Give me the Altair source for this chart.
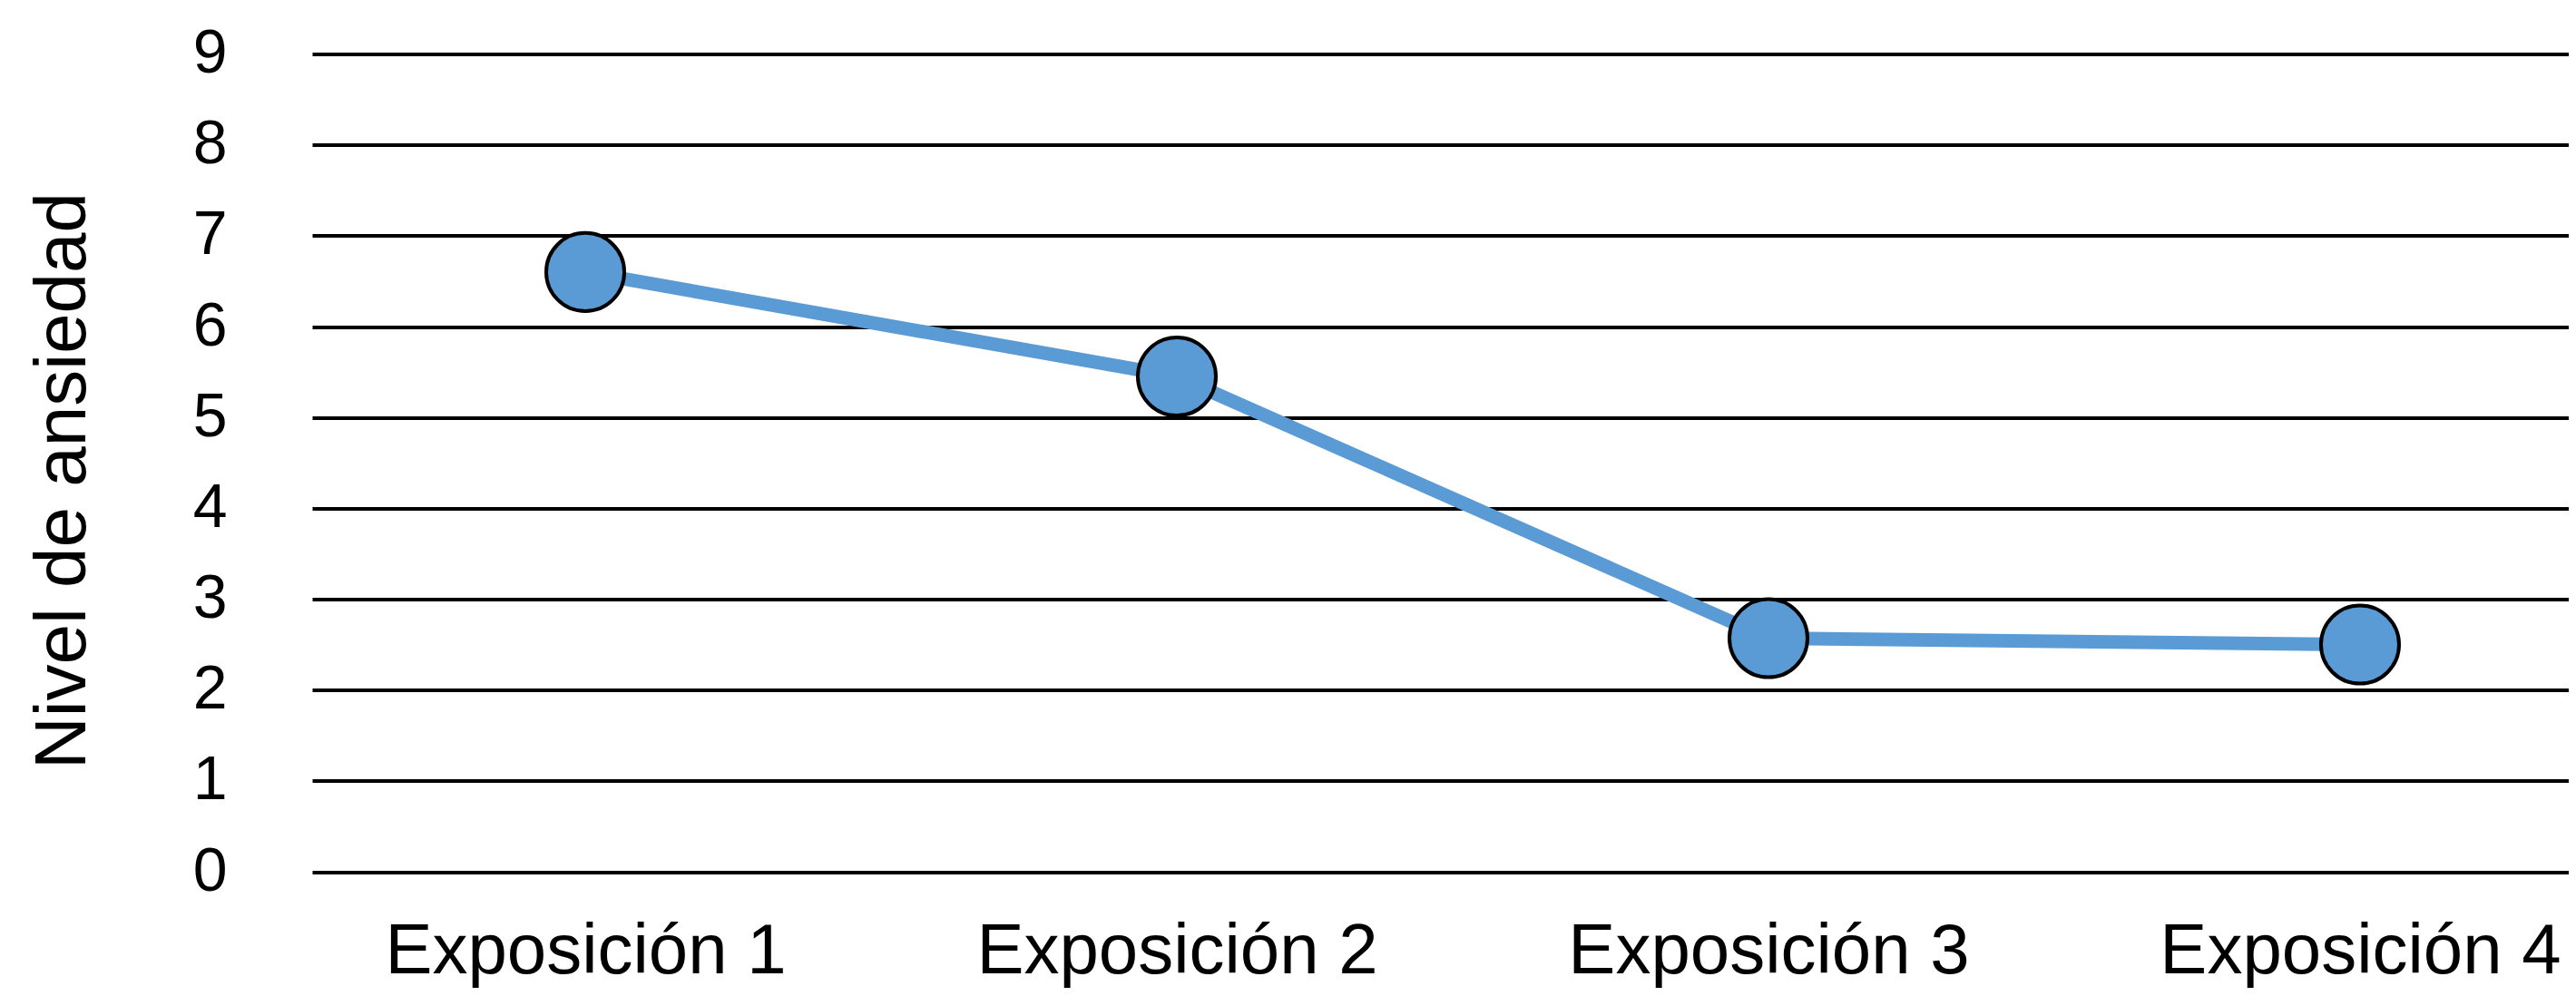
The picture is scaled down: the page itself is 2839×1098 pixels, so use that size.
import json
import altair as alt
import pandas as pd

categorias = ["Exposición 1", "Exposición 2", "Exposición 3", "Exposición 4"]
ansiedad = [6.6, 5.45, 2.57, 2.5]
y_ticks = [0, 1, 2, 3, 4, 5, 6, 7, 8, 9]

df = pd.DataFrame({"idx": list(range(len(categorias))), "cat": categorias, "val": ansiedad})

FONT = "Liberation Sans"
BLUE = "#5B9BD5"
label_expr = json.dumps(categorias, ensure_ascii=False) + "[datum.value]"

x = alt.X(
    "idx:Q",
    scale=alt.Scale(domain=[-0.4617, 3.3528], nice=False, zero=False),
    axis=alt.Axis(
        title=None,
        values=list(range(len(categorias))),
        labelExpr=label_expr,
        labelAngle=0,
        labelFont=FONT,
        labelFontSize=78,
        labelColor="black",
        labelBaseline="alphabetic",
        labelPadding=111,
        labelLimit=0,
        labelFlush=False,
        labelOverlap=False,
        ticks=False,
        tickSize=0,
        domain=False,
        grid=False,
    ),
)
y = alt.Y(
    "val:Q",
    scale=alt.Scale(domain=[0, 9], nice=False, zero=True),
    axis=alt.Axis(
        values=y_ticks,
        title="Nivel de ansiedad",
        titleFont=FONT,
        titleFontSize=80,
        titleFontWeight="normal",
        titleColor="black",
        titleAngle=-90,
        titleAlign="center",
        titleBaseline="alphabetic",
        titleX=-251,
        titleY=470,
        labelFont=FONT,
        labelFontSize=68,
        labelColor="black",
        labelPadding=94,
        ticks=False,
        tickSize=0,
        domain=False,
        grid=True,
        gridColor="black",
        gridWidth=4,
        gridOpacity=1,
    ),
)

line = alt.Chart(df).mark_line(color=BLUE, strokeWidth=15).encode(x=x, y=y)
points = alt.Chart(df).mark_point(
    filled=True, shape="circle", size=7400, fill=BLUE, color=BLUE,
    stroke="black", strokeWidth=4, opacity=1, fillOpacity=1,
).encode(x=x, y=y)

chart = (
    alt.layer(line, points)
    .properties(
        width=2487,
        height=901.5,
        padding={"left": 336, "top": 51.5, "right": 0, "bottom": 129},
        autosize=alt.AutoSizeParams(type="none"),
        background="white",
    )
    .configure_view(stroke=None)
)

chart.save("out.html", embed_options={"renderer": "svg", "actions": False})
